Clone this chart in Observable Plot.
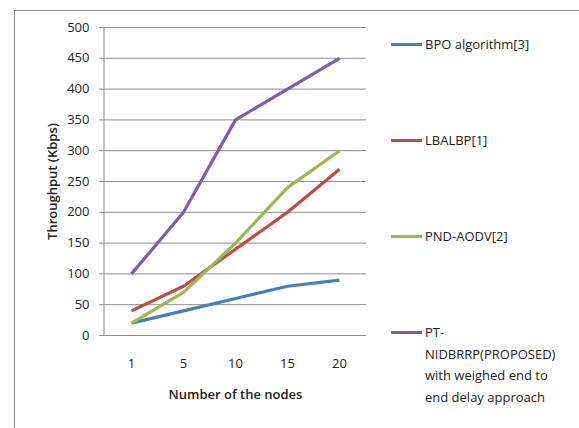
<!DOCTYPE html>
<html>
<head>
<meta charset="utf-8">
<script src="https://cdn.jsdelivr.net/npm/d3@7"></script>
<script src="https://cdn.jsdelivr.net/npm/@observablehq/plot@0.6"></script>
<style>
  body { margin: 0; background: #fff; }
  #wrap { position: relative; width: 579px; height: 428px; overflow: hidden; font-family: "Open Sans", sans-serif; color: #222; }
  #frame { position: absolute; left: 14px; top: 10px; width: 700px; height: 600px; border: 1px solid #8c8c8c; box-sizing: border-box; }
  #chart { position: absolute; left: 0; top: 0; }
  #chart svg g[aria-label="y-axis label"] text,
  #chart svg g[aria-label="x-axis label"] text { font-weight: 600; }
  #legend { position: absolute; left: 391px; top: 34px; width: 188px; }
  .item { position: absolute; left: 0; display: flex; align-items: flex-start; font-size: 13px; line-height: 21.5px; }
  .swatch { width: 31px; height: 3px; margin-top: 9px; margin-right: 3px; flex: none; }
  .name { width: 150px; }
</style>
</head>
<body>
<div id="wrap">
  <div id="frame"></div>
  <div id="chart"></div>
  <div id="legend"></div>
</div>
<script>
// Number of nodes on the x axis
const nodes = ["1", "5", "10", "15", "20"];

// Throughput (Kbps) per protocol
const bpo       = [20, 40, 60, 80, 90];
const lbalbp    = [40, 80, 140, 200, 270];
const pndAodv   = [20, 70, 150, 240, 300];
const ptNidbrrp = [100, 200, 350, 400, 450];

const seriesNames = [
  "BPO algorithm[3]",
  "LBALBP[1]",
  "PND-AODV[2]",
  "PT-\nNIDBRRP(PROPOSED)\nwith weighed end to\nend delay approach"
];
const seriesValues = [bpo, lbalbp, pndAodv, ptNidbrrp];
const seriesColors = ["#4a7ebb", "#be4b48", "#98b954", "#7d60a0"];

const yTicks = d3.range(0, 501, 50);

const rows = seriesNames.flatMap((name, i) =>
  nodes.map((n, j) => ({series: name, nodes: n, value: seriesValues[i][j]}))
);

const chart = Plot.plot({
  width: 579,
  height: 428,
  marginLeft: 104,
  marginRight: 213,
  marginTop: 27,
  marginBottom: 93,
  style: {fontFamily: "'Open Sans', sans-serif", fontSize: "13px", color: "#222", background: "transparent"},
  x: {type: "point", domain: nodes, padding: 0.5, label: null},
  y: {domain: [0, 500], label: null},
  color: {domain: seriesNames, range: seriesColors},
  marks: [
    Plot.ruleY(yTicks, {stroke: "#8c8c8c", strokeWidth: 1, strokeOpacity: 1}),
    Plot.axisY({ticks: yTicks, tickSize: 5, tickPadding: 10, stroke: "#8c8c8c", label: "Throughput (Kbps)", labelAnchor: "center", labelOffset: 57, labelArrow: false}),
    Plot.axisX({tickSize: 0, tickPadding: 23, label: "Number of the nodes", labelAnchor: "center", labelOffset: 63, labelArrow: false}),
    Plot.line(rows, {x: "nodes", y: "value", z: "series", stroke: "series", strokeWidth: 3.2, strokeLinejoin: "miter", strokeLinecap: "butt"})
  ]
});
document.getElementById("chart").appendChild(chart);

// Vertical axis line along the left edge of the plot area
{
  const ys = chart.scale("y");
  d3.select(chart).append("line")
    .attr("x1", 104).attr("x2", 104)
    .attr("y1", ys.apply(500)).attr("y2", ys.apply(0))
    .attr("stroke", "#8c8c8c");
}

// Legend, one entry per series, stacked down the right side
const legend = document.getElementById("legend");
seriesNames.forEach((name, i) => {
  const item = document.createElement("div");
  item.className = "item";
  item.style.top = (i * 96) + "px";
  const sw = document.createElement("div");
  sw.className = "swatch";
  sw.style.background = seriesColors[i];
  const label = document.createElement("div");
  label.className = "name";
  label.innerHTML = name.split("\n").join("<br>");
  item.appendChild(sw);
  item.appendChild(label);
  legend.appendChild(item);
});
</script>
</body>
</html>
